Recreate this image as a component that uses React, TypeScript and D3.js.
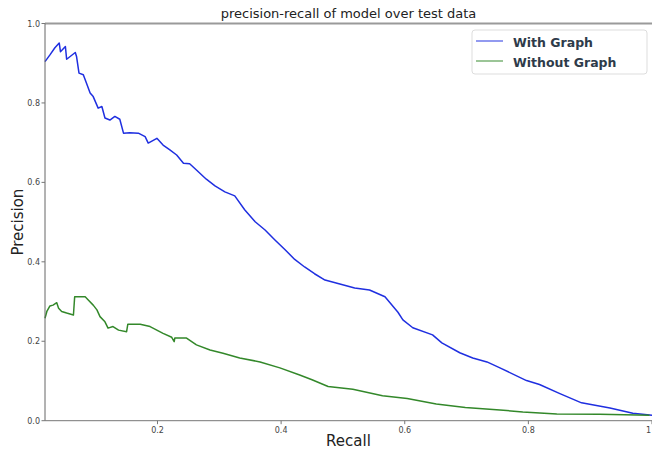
import React, { useRef, useEffect } from 'react';
import * as d3 from 'd3';

// recall / precision
const withGraphRecall = [
  0.018, 0.026, 0.034, 0.041, 0.043, 0.051, 0.053, 0.067, 0.069, 0.073, 0.080, 0.085, 0.091, 0.096,
  0.104, 0.110, 0.115, 0.123, 0.131, 0.139, 0.145, 0.155, 0.169, 0.180, 0.185, 0.199, 0.209, 0.220,
  0.231, 0.242, 0.252, 0.263, 0.279, 0.293, 0.309, 0.325, 0.341, 0.358, 0.374, 0.390, 0.406, 0.422,
  0.438, 0.454, 0.471, 0.495, 0.519, 0.543, 0.568, 0.589, 0.597, 0.613, 0.645, 0.660, 0.689, 0.710,
  0.733, 0.754, 0.797, 0.818, 0.851, 0.886, 0.932, 0.969, 1.0,
];
const withGraphPrecision = [
  0.904, 0.921, 0.939, 0.951, 0.929, 0.942, 0.910, 0.927, 0.917, 0.875, 0.871, 0.850, 0.825, 0.816,
  0.787, 0.791, 0.762, 0.757, 0.766, 0.759, 0.724, 0.725, 0.724, 0.715, 0.699, 0.711, 0.694, 0.682,
  0.669, 0.648, 0.647, 0.631, 0.608, 0.591, 0.576, 0.566, 0.531, 0.501, 0.480, 0.455, 0.431, 0.406,
  0.387, 0.370, 0.354, 0.344, 0.334, 0.329, 0.312, 0.273, 0.254, 0.234, 0.216, 0.196, 0.171, 0.158,
  0.148, 0.133, 0.101, 0.091, 0.068, 0.045, 0.032, 0.019, 0.014,
];

const withoutGraphRecall = [
  0.018, 0.021, 0.026, 0.031, 0.037, 0.040, 0.045, 0.053, 0.064, 0.066, 0.083, 0.088, 0.096, 0.102,
  0.107, 0.115, 0.120, 0.128, 0.137, 0.150, 0.152, 0.172, 0.188, 0.209, 0.223, 0.227, 0.228, 0.247,
  0.263, 0.285, 0.306, 0.333, 0.366, 0.398, 0.430, 0.450, 0.476, 0.516, 0.564, 0.604, 0.651, 0.698,
  0.754, 0.791, 0.846, 0.915, 0.996,
];
const withoutGraphPrecision = [
  0.258, 0.275, 0.289, 0.291, 0.297, 0.283, 0.275, 0.271, 0.266, 0.312, 0.312, 0.304, 0.291, 0.279,
  0.262, 0.249, 0.233, 0.237, 0.228, 0.224, 0.243, 0.243, 0.237, 0.220, 0.210, 0.199, 0.208, 0.208,
  0.191, 0.178, 0.170, 0.158, 0.148, 0.133, 0.115, 0.103, 0.086, 0.079, 0.063, 0.056, 0.042, 0.033,
  0.027, 0.022, 0.017, 0.016, 0.014,
];

const xTicks = [0.2, 0.4, 0.6, 0.8, 1.0];
const xTickLabels = ['0.2', '0.4', '0.6', '0.8', '1'];
const yTicks = [0.0, 0.2, 0.4, 0.6, 0.8, 1.0];
const yTickLabels = ['0.0', '0.2', '0.4', '0.6', '0.8', '1.0'];

const seriesNames = ['With Graph', 'Without Graph'];
const seriesColors = ['#1f2fe0', '#33882a'];

const App = () => {
  const svgRef = useRef<SVGSVGElement>(null);

  useEffect(() => {
    if (!svgRef.current) return;
    const svg = d3.select(svgRef.current);
    svg.selectAll('*').remove();

    const width = 652;
    const height = 451;
    const left = 45;
    const right = 652;
    const top = 23.5;
    const bottom = 420.7;
    const font = '"DejaVu Sans", sans-serif';

    svg.attr('width', width).attr('height', height);

    const x = d3.scaleLinear().domain([0.018, 1]).range([left, right]);
    const y = d3.scaleLinear().domain([0, 1]).range([bottom, top]);

    // title
    svg.append('text')
      .attr('x', (left + right) / 2)
      .attr('y', 18)
      .attr('text-anchor', 'middle')
      .style('font-family', font)
      .style('font-size', '13px')
      .style('fill', '#222')
      .text('precision-recall of model over test data');

    // lines
    const line = d3.line<[number, number]>()
      .x(d => x(d[0]))
      .y(d => y(d[1]));

    const series = [
      d3.zip(withGraphRecall, withGraphPrecision) as [number, number][],
      d3.zip(withoutGraphRecall, withoutGraphPrecision) as [number, number][],
    ];

    series.forEach((pts, i) => {
      svg.append('path')
        .attr('d', line(pts))
        .attr('fill', 'none')
        .attr('stroke', seriesColors[i])
        .attr('stroke-width', 1.5)
        .attr('stroke-linejoin', 'round');
    });

    // spines
    svg.append('line')
      .attr('x1', left).attr('x2', right)
      .attr('y1', top).attr('y2', top)
      .attr('stroke', '#9a9a9a').attr('stroke-width', 2);
    svg.append('line')
      .attr('x1', left).attr('x2', left)
      .attr('y1', top).attr('y2', bottom)
      .attr('stroke', '#666').attr('stroke-width', 1);
    svg.append('line')
      .attr('x1', left).attr('x2', right)
      .attr('y1', bottom).attr('y2', bottom)
      .attr('stroke', '#777').attr('stroke-width', 1);

    // x axis ticks (last label sits at the right edge, so anchor it there)
    const xg = svg.append('g');
    xTicks.forEach((t, i) => {
      const last = i === xTicks.length - 1;
      xg.append('line')
        .attr('x1', x(t)).attr('x2', x(t))
        .attr('y1', bottom).attr('y2', bottom + 3.5)
        .attr('stroke', '#777');
      xg.append('text')
        .attr('x', last ? x(t) - 1 : x(t))
        .attr('y', bottom + 12)
        .attr('text-anchor', last ? 'end' : 'middle')
        .style('font-family', font)
        .style('font-size', '8px')
        .style('fill', '#444')
        .text(xTickLabels[i]);
    });

    // y axis ticks
    const yg = svg.append('g');
    yTicks.forEach((t, i) => {
      yg.append('line')
        .attr('x1', left - 3.5).attr('x2', left)
        .attr('y1', y(t)).attr('y2', y(t))
        .attr('stroke', '#777');
      yg.append('text')
        .attr('x', left - 5)
        .attr('y', y(t) + 3)
        .attr('text-anchor', 'end')
        .style('font-family', font)
        .style('font-size', '8px')
        .style('fill', '#444')
        .text(yTickLabels[i]);
    });

    // axis labels
    svg.append('text')
      .attr('x', (left + right) / 2)
      .attr('y', 446)
      .attr('text-anchor', 'middle')
      .style('font-family', font)
      .style('font-size', '15px')
      .style('fill', '#222')
      .text('Recall');

    svg.append('text')
      .attr('transform', `translate(23, ${(top + bottom) / 2}) rotate(-90)`)
      .attr('text-anchor', 'middle')
      .style('font-family', font)
      .style('font-size', '15px')
      .style('fill', '#222')
      .text('Precision');

    // legend
    const legend = svg.append('g').attr('transform', 'translate(472, 30)');
    legend.append('rect')
      .attr('width', 175)
      .attr('height', 44)
      .attr('rx', 3)
      .attr('fill', '#fff')
      .attr('stroke', '#ddd');

    seriesNames.forEach((name, i) => {
      const row = legend.append('g').attr('transform', `translate(0, ${11 + i * 20})`);
      row.append('line')
        .attr('x1', 4).attr('x2', 31)
        .attr('y1', 0).attr('y2', 0)
        .attr('stroke', seriesColors[i])
        .attr('stroke-opacity', 0.65)
        .attr('stroke-width', 1.5);
      row.append('text')
        .attr('x', 41)
        .attr('y', 6)
        .style('font-family', font)
        .style('font-size', '12.5px')
        .style('font-weight', 'bold')
        .style('fill', '#2e3b4a')
        .text(name);
    });
  }, []);

  return (
    <div style={{ position: 'absolute', left: 0, top: 0 }}>
      <svg ref={svgRef} style={{ display: 'block' }}></svg>
    </div>
  );
};

export default App;
